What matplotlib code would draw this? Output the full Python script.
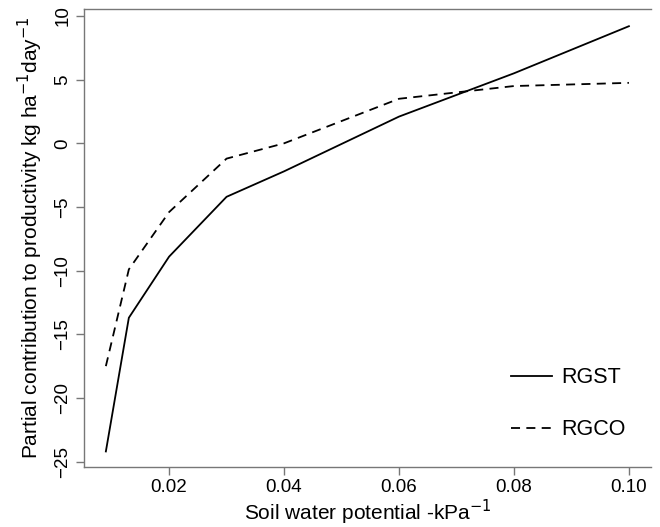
import matplotlib as mpl
mpl.use('Agg')
import matplotlib.pyplot as plt

plt.rcParams['font.family'] = ['Liberation Sans', 'DejaVu Sans']
plt.rcParams['axes.unicode_minus'] = True

# soil water potential (x) and partial contributions (y)
swp = [0.009, 0.013, 0.02, 0.03, 0.04, 0.06, 0.08, 0.10]
rgst = [-24.2, -13.7, -8.9, -4.2, -2.2, 2.1, 5.5, 9.2]
rgco = [-17.5, -9.9, -5.4, -1.2, 0.0, 3.5, 4.5, 4.75]
xticks = [0.02, 0.04, 0.06, 0.08, 0.10]
yticks = [-25, -20, -15, -10, -5, 0, 5, 10]

fig = plt.figure(figsize=(6.6, 5.27), dpi=100)
ax = fig.add_axes([0.1273, 0.1139, 0.8587, 0.869])

ax.plot(swp, rgst, color='black', lw=1.3, label='RGST')
ax.plot(swp, rgco, color='black', lw=1.3, dashes=(5, 3.5), label='RGCO')

ax.set_xlim(0.0052, 0.1038)
ax.set_ylim(-25.42, 10.55)
ax.set_xticks(xticks)
ax.set_xticklabels(['%.2f' % v for v in xticks])
ax.set_yticks(yticks)
ax.set_yticklabels([str(v).replace('-', '\u2212') for v in yticks], rotation=90, va='center')

for s in ['left', 'top', 'bottom']:
    ax.spines[s].set_color('#777777')
    ax.spines[s].set_linewidth(1.0)
ax.spines['right'].set_visible(False)
ax.tick_params(direction='out', length=6, width=1.0, color='#777777', labelsize=13.5, pad=3)

ax.set_xlabel('Soil water potential -kPa$^{-1}$', fontsize=15, labelpad=1)
ax.set_ylabel('Partial contribution to productivity kg ha$^{-1}$day$^{-1}$', fontsize=15, labelpad=7)

ax.legend(loc='upper left', bbox_to_anchor=(0.753, 0.218), frameon=False, fontsize=15.5,
          handlelength=1.9, handletextpad=0.45, labelspacing=1.45,
          borderpad=0, borderaxespad=0)

plt.savefig('out.png', dpi=100)
